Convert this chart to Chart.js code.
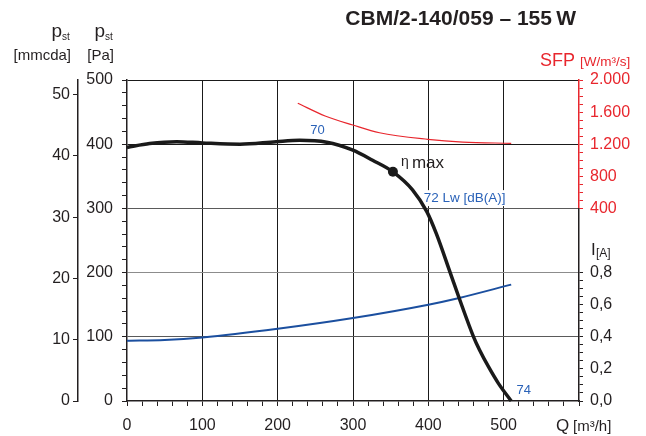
<!DOCTYPE html>
<html>
<head>
<meta charset="utf-8">
<script src="https://cdn.jsdelivr.net/npm/chart.js@4.4.1/dist/chart.umd.min.js"></script>
<style>
html, body { margin: 0; padding: 0; background: #fff; }
#wrap { width: 646px; height: 436px; }
</style>
</head>
<body>
<div id="wrap"><canvas id="fanChart" width="646" height="436"></canvas></div>
<script>
// static pressure curve, Q [m3/h] -> p_st [Pa]
var pressureQ  = [0, 30, 66, 100, 150, 198, 229, 265, 299, 326, 353, 379, 398, 410.5, 429, 441, 460, 468, 480, 493, 510];
var pressurePa = [395, 401, 404, 402, 400, 404, 406, 403, 391, 375, 357, 329, 295, 261, 200, 160, 100, 79.5, 53, 27.5, 0];

// best efficiency point
var etaQ  = [353];
var etaPa = [357];

// motor current, Q -> I [A]
var currentQ = [0, 50, 100, 200, 300, 400, 441, 510];
var currentA = [0.375, 0.38, 0.396, 0.45, 0.517, 0.6, 0.642, 0.725];

// specific fan power, Q -> SFP [W/m3/s]
var sfpQ      = [226.7, 263, 299.8, 335.2, 399.3, 445.8, 510];
var sfpValues = [1710, 1552, 1439, 1343, 1261, 1227, 1211];

// labelled ticks
var qTicks   = [0, 100, 200, 300, 400, 500];
var paTicks  = [0, 100, 200, 300, 400, 500];
var mmTicks  = [0, 10, 20, 30, 40, 50];
var sfpTicks = [400, 800, 1200, 1600, 2000];
var ampTicks = [0, 0.2, 0.4, 0.6, 0.8];

var RED = '#e8262d';
var BLUE_LINE = '#1b4f9f';
var BLUE_TEXT = '#2a62b8';
var INK = '#231f20';
var FONT = "'Liberation Sans', Arial, sans-serif";

Chart.defaults.font.family = FONT;
Chart.defaults.color = INK;

function pts(xs, ys) {
    return xs.map(function (x, i) { return { x: x, y: ys[i] }; });
}

function stepTicks(from, to, step) {
    var out = [];
    var n = Math.round((to - from) / step);
    for (var i = 0; i <= n; i++) out.push({ value: +(from + i * step).toFixed(3) });
    return out;
}

function has(list, v) {
    return list.some(function (t) { return Math.abs(t - v) < 1e-6; });
}

function sfpLabel(v) {
    if (v >= 1000) return Math.floor(v / 1000) + '.' + String(v % 1000).padStart(3, '0');
    return String(v);
}

var tickFont = { size: 16, family: FONT };

// curve notes, placed in data units
var notes = [
    { text: '70', q: 253, pa: 422, color: BLUE_TEXT, size: 13, align: 'center' },
    { text: '72 Lw [dB(A)]', q: 394, pa: 316, color: BLUE_TEXT, size: 13.5, align: 'left', box: true },
    { text: '74', q: 517, pa: 16, color: BLUE_TEXT, size: 13, align: 'left' }
];

var textPlugin = {
    id: 'textPlugin',
    beforeDatasetsDraw: function (chart) {
        var ctx = chart.ctx, sx = chart.scales.x, sy = chart.scales.y;
        ctx.save();
        ctx.fillStyle = '#fff';
        notes.forEach(function (n) {
            if (!n.box) return;
            ctx.font = n.size + 'px ' + FONT;
            var w = ctx.measureText(n.text).width;
            var x = sx.getPixelForValue(n.q), y = sy.getPixelForValue(n.pa);
            ctx.fillRect(x - 3, y - 8, w + 5, 16);
        });
        ctx.restore();
    },
    afterDraw: function (chart) {
        var ctx = chart.ctx, a = chart.chartArea;
        var sx = chart.scales.x, sy = chart.scales.y;
        ctx.save();
        ctx.textBaseline = 'middle';
        notes.forEach(function (n) {
            ctx.font = n.size + 'px ' + FONT;
            ctx.fillStyle = n.color;
            ctx.textAlign = n.align;
            ctx.fillText(n.text, sx.getPixelForValue(n.q), sy.getPixelForValue(n.pa));
        });

        // eta max
        var ex = sx.getPixelForValue(etaQ[0]) + 8, ey = sy.getPixelForValue(etaPa[0]) - 4;
        ctx.textBaseline = 'alphabetic';
        ctx.textAlign = 'left';
        ctx.fillStyle = INK;
        ctx.font = '14px ' + FONT;
        ctx.fillText('\u03b7', ex, ey - 2);
        ctx.font = '17px ' + FONT;
        ctx.fillText('max', ex + 11, ey);

        // title
        ctx.font = 'bold 21px ' + FONT;
        ctx.textAlign = 'right';
        ctx.fillText('CBM/2-140/059 \u2013 155\u2009W', a.right - 3, 25);

        // left axis titles
        ctx.font = '19px ' + FONT;
        ctx.fillText('p', 62, 37);
        ctx.fillText('p', 105, 37);
        ctx.font = '10px ' + FONT;
        ctx.textAlign = 'left';
        ctx.fillText('st', 62, 40);
        ctx.fillText('st', 105, 40);
        ctx.font = '15px ' + FONT;
        ctx.textAlign = 'right';
        ctx.fillText('[mmcda]', 71, 60);
        ctx.fillText('[Pa]', 114, 60);

        // SFP title
        ctx.fillStyle = RED;
        ctx.font = '18px ' + FONT;
        ctx.fillText('SFP', a.right - 4, 66);
        ctx.textAlign = 'left';
        ctx.font = '13.5px ' + FONT;
        ctx.fillText('[W/m\u00b3/s]', a.right + 1, 66);

        // current title
        ctx.fillStyle = INK;
        ctx.font = '17px ' + FONT;
        ctx.fillText('I', a.right + 12, 255);
        ctx.font = '12px ' + FONT;
        ctx.fillText('[A]', a.right + 17, 257);

        // Q title
        ctx.font = '17px ' + FONT;
        ctx.fillText('Q', a.right - 23, 431);
        ctx.font = '15px ' + FONT;
        ctx.fillText('[m\u00b3/h]', a.right - 6, 431);
        ctx.restore();
    }
};

var ctx = document.getElementById('fanChart').getContext('2d');
new Chart(ctx, {
    type: 'line',
    data: {
        datasets: [{
            label: 'p_st',
            data: pts(pressureQ, pressurePa),
            yAxisID: 'y',
            borderColor: '#1a1a1a',
            borderWidth: 3.5,
            pointRadius: 0,
            cubicInterpolationMode: 'monotone',
            clip: false
        }, {
            label: 'eta max',
            data: pts(etaQ, etaPa),
            yAxisID: 'y',
            showLine: false,
            pointRadius: 5,
            pointBorderWidth: 0,
            pointBackgroundColor: '#1a1a1a',
            clip: false
        }, {
            label: 'I',
            data: pts(currentQ, currentA),
            yAxisID: 'yi',
            borderColor: BLUE_LINE,
            borderWidth: 2,
            pointRadius: 0,
            cubicInterpolationMode: 'monotone',
            clip: false
        }, {
            label: 'SFP',
            data: pts(sfpQ, sfpValues),
            yAxisID: 'ysfp',
            borderColor: RED,
            borderWidth: 1.2,
            pointRadius: 0,
            cubicInterpolationMode: 'monotone',
            clip: false
        }]
    },
    options: {
        responsive: false,
        animation: false,
        devicePixelRatio: 1,
        layout: { padding: { top: 80, left: 0, right: 0, bottom: 0 } },
        plugins: { legend: { display: false }, tooltip: { enabled: false } },
        scales: {
            x: {
                type: 'linear',
                position: 'bottom',
                min: 0,
                max: 600,
                afterBuildTicks: function (s) { s.ticks = stepTicks(0, 600, 20); },
                afterFit: function (s) { s.height = 35; },
                ticks: {
                    autoSkip: false, maxRotation: 0, padding: 10, font: tickFont, color: INK,
                    callback: function (v) { return has(qTicks, v) ? String(v) : ''; }
                },
                grid: {
                    color: function (c) {
                        var v = c.tick ? c.tick.value : 0;
                        return (v % 100 === 0 && v > 0 && v < 600) ? '#1a1a1a' : 'rgba(0,0,0,0)';
                    },
                    tickColor: INK, tickLength: 5, lineWidth: 1
                },
                border: { color: INK, width: 1.5 }
            },
            y: {
                position: 'left',
                min: 0,
                max: 500,
                afterBuildTicks: function (s) { s.ticks = stepTicks(0, 500, 20); },
                afterFit: function (s) { s.width = 49; },
                ticks: {
                    autoSkip: false, padding: 9, font: tickFont, color: INK,
                    callback: function (v) { return has(paTicks, v) ? String(v) : ''; }
                },
                grid: {
                    color: function (c) {
                        var v = c.tick ? c.tick.value : 0;
                        if (v % 100 !== 0 || v === 0) return 'rgba(0,0,0,0)';
                        if (v >= 400) return '#1a1a1a';
                        if (v === 200) return '#8c8c8c';
                        return '#5a5a5a';
                    },
                    tickColor: INK, tickLength: 5, lineWidth: 1
                },
                border: { color: INK, width: 1.5 }
            },
            ymm: {
                position: 'left',
                min: 0,
                max: 52.4,
                afterBuildTicks: function (s) { s.ticks = mmTicks.map(function (v) { return { value: v }; }); },
                afterFit: function (s) { s.width = 78; },
                ticks: { autoSkip: false, padding: 3, font: tickFont, color: INK },
                grid: { drawOnChartArea: false, tickColor: INK, tickLength: 5 },
                border: { color: INK, width: 1.5 }
            },
            ysfp: {
                position: 'right',
                stack: 'right',
                stackWeight: 2,
                min: 400,
                max: 2000,
                afterBuildTicks: function (s) { s.ticks = stepTicks(400, 2000, 100); },
                afterFit: function (s) { s.width = 67; },
                ticks: {
                    autoSkip: false, padding: 7, font: tickFont, color: RED,
                    callback: function (v) { return has(sfpTicks, v) ? sfpLabel(v) : ''; }
                },
                grid: { drawOnChartArea: false, tickColor: RED, tickLength: 4 },
                border: { color: RED, width: 1.5 }
            },
            yi: {
                position: 'right',
                stack: 'right',
                stackWeight: 3,
                min: 0,
                max: 1.2,
                afterBuildTicks: function (s) { s.ticks = stepTicks(0, 0.8, 0.05); },
                afterFit: function (s) { s.width = 67; },
                ticks: {
                    autoSkip: false, padding: 7, font: tickFont, color: INK,
                    callback: function (v) { return has(ampTicks, v) ? v.toFixed(1).replace('.', ',') : ''; }
                },
                grid: { drawOnChartArea: false, tickColor: INK, tickLength: 4 },
                border: { color: INK, width: 1.5 }
            }
        }
    },
    plugins: [textPlugin]
});
</script>
</body>
</html>
